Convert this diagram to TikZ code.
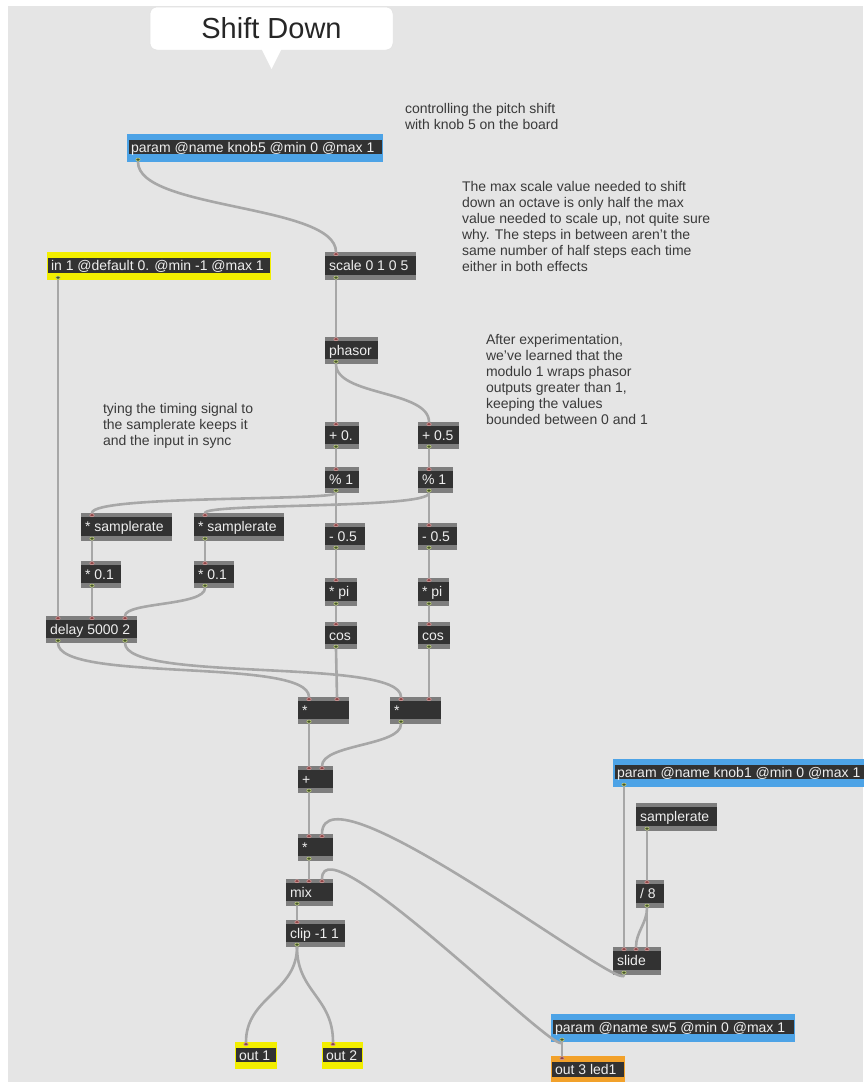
\documentclass[tikz,border=0pt]{standalone}
\usepackage{fontspec}
\setmainfont{Liberation Sans}
\usetikzlibrary{calc}
\definecolor{bgc}{HTML}{E5E5E5}
\definecolor{objdark}{HTML}{323232}
\definecolor{objstrip}{HTML}{7E7E7E}
\definecolor{pblue}{HTML}{4DA3E6}
\definecolor{pyellow}{HTML}{F2EE00}
\definecolor{porange}{HTML}{F2A12A}
\definecolor{cablec}{HTML}{A7A7A7}
\definecolor{objtext}{HTML}{EEEEEE}
\definecolor{cmtc}{HTML}{3A3A3A}
\definecolor{inlf}{HTML}{8C4646}
\definecolor{inlb}{HTML}{D49A9A}
\definecolor{outf}{HTML}{46562A}
\definecolor{outb}{HTML}{BCCB7C}
\tikzset{
  every node/.style={inner sep=0pt, outer sep=0pt},
  lbl/.style={anchor=west, xshift=4pt, yshift=-1pt, text=objtext, font=\fontsize{14}{16}\selectfont, text height=10pt, text depth=3pt},
  gobj/.style 2 args={anchor=north west, minimum width=#1pt, minimum height=#2pt, fill=objstrip,
     path picture={\fill[objdark] ([yshift=-4pt]path picture bounding box.north west) rectangle ([yshift=5pt]path picture bounding box.south east);}},
  pobj/.style 2 args={anchor=north west, minimum width=#1pt, minimum height=#2pt, fill=pblue,
     path picture={\fill[objdark] ([xshift=1.5pt,yshift=-6pt]path picture bounding box.north west) rectangle ([xshift=-1.5pt,yshift=8pt]path picture bounding box.south east);}},
  yobj/.style 2 args={anchor=north west, minimum width=#1pt, minimum height=#2pt, fill=pyellow,
     path picture={\fill[objdark] ([xshift=1pt,yshift=-6pt]path picture bounding box.north west) rectangle ([xshift=-1pt,yshift=7pt]path picture bounding box.south east);}},
  oobj/.style 2 args={anchor=north west, minimum width=#1pt, minimum height=#2pt, fill=porange,
     path picture={\fill[objdark] ([xshift=1pt,yshift=-6pt]path picture bounding box.north west) rectangle ([xshift=-1pt,yshift=7pt]path picture bounding box.south east);}},
  cable/.style={draw=cablec, line width=2.6pt, line cap=round},
  cmt/.style={anchor=north west, align=left, text=cmtc, font=\fontsize{14}{16}\selectfont},
  indot/.style={fill=inlf, draw=inlb, line width=0.6pt},
  outdot/.style={fill=outf, draw=outb, line width=0.6pt},
}
\newcommand{\inl}[2]{\filldraw[indot] ([xshift=#2pt,yshift=-2.2pt]#1.north west) ellipse [x radius=2.2pt, y radius=1.5pt];}
\newcommand{\outl}[2]{\filldraw[outdot] ([xshift=#2pt,yshift=2.4pt]#1.south west) ellipse [x radius=2.2pt, y radius=1.5pt];}
\begin{document}
\begin{tikzpicture}[x=1pt,y=-1pt]
\useasboundingbox (0,0) rectangle (863,1082);
\fill[white] (0,0) rectangle (863,1082);
\fill[bgc] (8,6) rectangle (863,1082);

% title callout
\node[anchor=north west, minimum width=243pt, minimum height=43pt, fill=white, draw=black!12, line width=0.5pt, rounded corners=7pt,
      font=\fontsize{29}{34}\selectfont, text=black!85] (title) at (150,7) {Shift Down};
\fill[white] ($(title.south)+(-10,-1)$) -- ($(title.south)+(0,19)$) -- ($(title.south)+(10,-1)$) -- cycle;

% comments
\node[cmt] (c1) at (405,103) {controlling the pitch shift\\with knob 5 on the board};
\node[cmt] (c2) at (462,181.5) {The max scale value needed to shift\\down an octave is only half the max\\value needed to scale up, not quite sure\\why. The steps in between aren't the\\same number of half steps each time\\either in both effects};
\node[cmt] (c3) at (486,334) {After experimentation,\\we've learned that the\\modulo 1 wraps phasor\\outputs greater than 1,\\keeping the values\\bounded between 0 and 1};
\node[cmt] (c4) at (103,403) {tying the timing signal to\\the samplerate keeps it\\and the input in sync};

% objects
\node[pobj={256}{28}, label={[lbl]west:param @name knob5 @min 0 @max 1}] (knob5) at (127,134) {};
\node[yobj={224}{28}, label={[lbl]west:in 1 @default 0. @min -1 @max 1}] (in1) at (47,252) {};
\node[gobj={91}{28}, label={[lbl]west:scale 0 1 0 5}] (scale) at (325,252) {};
\node[gobj={53}{27}, label={[lbl]west:phasor}] (phasor) at (325,337) {};
\node[gobj={34}{27}, label={[lbl]west:+ 0.}] (plusA) at (325,422) {};
\node[gobj={41}{27}, label={[lbl]west:+ 0.5}] (plusB) at (418,422) {};
\node[gobj={34}{26}, label={[lbl]west:\% 1}] (modA) at (325,467) {};
\node[gobj={35}{26}, label={[lbl]west:\% 1}] (modB) at (418,467) {};
\node[gobj={40}{27}, label={[lbl]west:- 0.5}] (subA) at (325,523) {};
\node[gobj={39}{27}, label={[lbl]west:- 0.5}] (subB) at (418,523) {};
\node[gobj={32}{28}, label={[lbl]west:* pi}] (piA) at (325,578) {};
\node[gobj={31}{28}, label={[lbl]west:* pi}] (piB) at (418,578) {};
\node[gobj={32}{27}, label={[lbl]west:cos}] (cosA) at (325,622) {};
\node[gobj={32}{27}, label={[lbl]west:cos}] (cosB) at (418,622) {};
\node[gobj={91}{28}, label={[lbl]west:* samplerate}] (srA) at (81,513) {};
\node[gobj={90}{28}, label={[lbl]west:* samplerate}] (srB) at (194,513) {};
\node[gobj={40}{27}, label={[lbl]west:* 0.1}] (mulA) at (81,561) {};
\node[gobj={40}{27}, label={[lbl]west:* 0.1}] (mulB) at (194,561) {};
\node[gobj={91}{27}, label={[lbl]west:delay 5000 2}] (delay) at (46,616) {};
\node[gobj={51}{27}, label={[lbl]west:*}] (timesA) at (298,697) {};
\node[gobj={51}{27}, label={[lbl]west:*}] (timesB) at (390,697) {};
\node[gobj={35}{27}, label={[lbl]west:+}] (sum) at (298,766) {};
\node[gobj={35}{27}, label={[lbl]west:*}] (gain) at (298,834) {};
\node[gobj={47}{27}, label={[lbl]west:mix}] (mix) at (286,879) {};
\node[gobj={59}{27}, label={[lbl]west:clip -1 1}] (clip) at (286,920) {};
\node[pobj={252}{28}, label={[lbl]west:param @name knob1 @min 0 @max 1}] (knob1) at (613,759) {};
\node[gobj={81}{28}, label={[lbl]west:samplerate}] (srC) at (636,803) {};
\node[gobj={28}{28}, label={[lbl]west:/ 8}] (div) at (636,880) {};
\node[gobj={48}{28}, label={[lbl]west:slide}] (slide) at (613,947) {};
\node[pobj={244}{28}, label={[lbl]west:param @name sw5 @min 0 @max 1}] (sw5) at (551,1014) {};
\node[oobj={74}{28}, label={[lbl]west:out 3 led1}] (out3) at (551,1056) {};
\node[yobj={42}{27}, label={[lbl]west:out 1}] (out1) at (235,1042) {};
\node[yobj={41}{27}, label={[lbl]west:out 2}] (out2) at (322,1042) {};

% cables
\draw[cable] ([xshift=11pt]knob5.south west) .. controls +(0,48) and +(0,-48) .. ([xshift=11pt]scale.north west);
\draw[cable] ([xshift=11pt]in1.south west) -- ([xshift=12pt]delay.north west);
\draw[cable] ([xshift=11pt]scale.south west) -- ([xshift=11pt]phasor.north west);
\draw[cable] ([xshift=11pt]phasor.south west) -- ([xshift=11pt]plusA.north west);
\draw[cable] ([xshift=11pt]phasor.south west) .. controls +(0,32) and +(0,-32) .. ([xshift=11pt]plusB.north west);
\draw[cable] ([xshift=11pt]plusA.south west) -- ([xshift=11pt]modA.north west);
\draw[cable] ([xshift=11pt]plusB.south west) -- ([xshift=11pt]modB.north west);
\draw[cable] ([xshift=11pt]modA.south west) -- ([xshift=11pt]subA.north west);
\draw[cable] ([xshift=11pt]modB.south west) -- ([xshift=11pt]subB.north west);
\draw[cable] ([xshift=11pt]subA.south west) -- ([xshift=11pt]piA.north west);
\draw[cable] ([xshift=11pt]subB.south west) -- ([xshift=11pt]piB.north west);
\draw[cable] ([xshift=11pt]piA.south west) -- ([xshift=11pt]cosA.north west);
\draw[cable] ([xshift=11pt]piB.south west) -- ([xshift=11pt]cosB.north west);
\draw[cable] ([xshift=11pt]cosA.south west) -- ([xshift=39pt]timesA.north west);
\draw[cable] ([xshift=11pt]cosB.south west) -- ([xshift=39pt]timesB.north west);
\draw[cable] ([xshift=11pt]modA.south west) .. controls +(0,8) and +(0,-18) .. ([xshift=11pt]srA.north west);
\draw[cable] ([xshift=11pt]modB.south west) .. controls +(0,16) and +(0,-10) .. ([xshift=11pt]srB.north west);
\draw[cable] ([xshift=11pt]srA.south west) -- ([xshift=11pt]mulA.north west);
\draw[cable] ([xshift=11pt]srB.south west) -- ([xshift=11pt]mulB.north west);
\draw[cable] ([xshift=11pt]mulA.south west) -- ([xshift=46pt]delay.north west);
\draw[cable] ([xshift=11pt]mulB.south west) .. controls +(0,18) and +(0,-14) .. ([xshift=79pt]delay.north west);
\draw[cable] ([xshift=12pt]delay.south west) .. controls +(0,40) and +(0,-40) .. ([xshift=11pt]timesA.north west);
\draw[cable] ([xshift=79pt]delay.south west) .. controls +(0,40) and +(0,-40) .. ([xshift=11pt]timesB.north west);
\draw[cable] ([xshift=11pt]timesA.south west) -- ([xshift=11pt]sum.north west);
\draw[cable] ([xshift=11pt]timesB.south west) .. controls +(0,22) and +(0,-22) .. ([xshift=24pt]sum.north west);
\draw[cable] ([xshift=11pt]sum.south west) -- ([xshift=11pt]gain.north west);
\draw[cable] ([xshift=11pt]slide.south west) .. controls +(0,20) and +(0,-75) .. ([xshift=24pt]gain.north west);
\draw[cable] ([xshift=11pt]gain.south west) -- ([xshift=23pt]mix.north west);
\draw[cable] ([xshift=11pt]sw5.south west) .. controls +(0,20) and +(0,-60) .. ([xshift=36pt]mix.north west);
\draw[cable] ([xshift=11pt]mix.south west) -- ([xshift=11pt]clip.north west);
\draw[cable] ([xshift=11pt]clip.south west) .. controls +(0,45) and +(0,-45) .. ([xshift=11pt]out1.north west);
\draw[cable] ([xshift=11pt]clip.south west) .. controls +(0,45) and +(0,-45) .. ([xshift=11pt]out2.north west);
\draw[cable] ([xshift=11pt]knob1.south west) -- ([xshift=11pt]slide.north west);
\draw[cable] ([xshift=11pt]srC.south west) -- ([xshift=11pt]div.north west);
\draw[cable] ([xshift=11pt]div.south west) .. controls +(0,15) and +(0,-15) .. ([xshift=23pt]slide.north west);
\draw[cable] ([xshift=11pt]div.south west) -- ([xshift=34pt]slide.north west);
\draw[cable] ([xshift=11pt]sw5.south west) -- ([xshift=11pt]out3.north west);

% inlets
\foreach \n/\o in {scale/11, phasor/11, plusA/11, plusB/11, modA/11, modB/11, subA/11, subB/11, piA/11, piB/11, cosA/11, cosB/11,
  srA/11, srB/11, mulA/11, mulB/11, delay/12, delay/46, delay/79, timesA/11, timesA/39, timesB/11, timesB/39,
  sum/11, sum/24, gain/11, gain/24, mix/11, mix/23, mix/36, clip/11, div/11, slide/11, slide/23, slide/34, out1/11, out2/11, out3/11}
  {\inl{\n}{\o}}
% outlets
\foreach \n/\o in {knob5/11, in1/11, scale/11, phasor/11, plusA/11, plusB/11, modA/11, modB/11, subA/11, subB/11, piA/11, piB/11, cosA/11, cosB/11,
  srA/11, srB/11, mulA/11, mulB/11, delay/12, delay/79, timesA/11, timesB/11, sum/11, gain/11, mix/11, clip/11,
  knob1/11, srC/11, div/11, slide/11, sw5/11}
  {\outl{\n}{\o}}
\end{tikzpicture}
\end{document}
